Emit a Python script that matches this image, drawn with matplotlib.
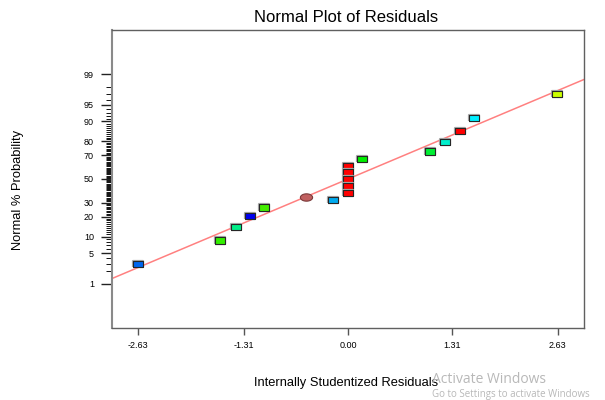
import numpy as np
import matplotlib
matplotlib.use("Agg")
import matplotlib.pyplot as plt
import matplotlib.patheffects as pe
from statistics import NormalDist

plt.rcParams['font.family'] = ['Liberation Sans', 'DejaVu Sans']

# studentized residuals and their normal % probability
resid = [-2.63, -1.60, -1.41, -1.23, -1.05, -0.53, -0.19,
         0.0, 0.0, 0.0, 0.0, 0.0,
         0.18, 1.03, 1.22, 1.40, 1.58, 2.62]
prob = [2.9, 8.6, 14.5, 20.5, 26.4, 34.7, 31.9,
        61.6, 55.8, 49.6, 44.1, 38.1,
        67.3, 73.0, 79.2, 85.5, 91.1, 97.0]
colors = ['#0066ee', '#33ee00', '#00ee88', '#0000ee', '#44ee00', '#c06060', '#00aaee',
          '#ff0000', '#ff0000', '#ff0000', '#ff0000', '#ff0000',
          '#00ee00', '#00ee33', '#00eecc', '#ff0000', '#00eeff', '#ccff00']
shapes = ['box'] * 5 + ['oval'] + ['box'] * 12

# fitted reference line  z = slope * r + icpt
slope = 0.747
icpt = 0.0

xticks = [-2.63, -1.31, 0.00, 1.31, 2.63]
yticks = [1, 5, 10, 20, 30, 50, 70, 80, 90, 95, 99]

nd = NormalDist()
def z(p):
    return nd.inv_cdf(p / 100.0)

box = [(-1, -0.62), (1, -0.62), (1, 0.62), (-1, 0.62), (-1, -0.62)]
t = np.linspace(0, 2 * np.pi, 60)
oval = list(zip(np.cos(t), 0.6 * np.sin(t)))

fig = plt.figure(figsize=(6.05, 4.0), dpi=100)
ax = fig.add_axes([0.1851, 0.18, 0.7802, 0.745])

xl = (-2.96, 2.96)
ax.set_xlim(xl)
ax.set_ylim(-3.31, 3.31)

xx = np.array(xl)
ax.plot(xx, slope * xx + icpt, color='#ff8080', lw=1.1, zorder=2)

halo = [pe.Stroke(linewidth=1.6, foreground='#a8a8a8'), pe.Normal()]
for r, p, c, s in zip(resid, prob, colors, shapes):
    if s == 'box':
        ax.plot(r, z(p), marker=box, ms=7.2, mfc=c, mec='#262626', mew=0.8,
                ls='none', zorder=3, path_effects=halo)
    else:
        ax.plot(r, z(p), marker=oval, ms=8.8, mfc=c, mec='#7a3a3a', mew=0.8,
                ls='none', zorder=3)

ax.set_xticks(xticks)
ax.set_xticklabels(['%.2f' % v for v in xticks], fontsize=6.5)
ax.set_yticks([z(v) for v in yticks])
ax.set_yticklabels([str(v) for v in yticks], fontsize=6.5)
minor = [v for v in range(2, 99) if v not in yticks]
ax.set_yticks([z(v) for v in minor], minor=True)

ax.tick_params(axis='y', which='major', length=8, width=1, color='#222222', pad=5)
ax.tick_params(axis='y', which='minor', length=4, width=0.7, color='#111111')
ax.tick_params(axis='x', which='major', length=5, width=1, color='#555555', pad=4)
for sp in ax.spines.values():
    sp.set_color('#606060')
    sp.set_linewidth(1.0)
ax.spines['left'].set_linewidth(1.5)
ax.spines['left'].set_color('#8a8a8a')

fig.text(0.572, 0.955, 'Normal Plot of Residuals', fontsize=12, ha='center', va='center')
fig.text(0.572, 0.043, 'Internally Studentized Residuals', fontsize=9.3, ha='center', va='center')
fig.text(0.030, 0.525, 'Normal % Probability', fontsize=9.3, rotation=90, ha='center', va='center')

# desktop watermark
fig.text(0.714, 0.052, 'Activate Windows', fontsize=10, color='#b8b8b8', ha='left', va='center',
         family=['Open Sans', 'DejaVu Sans'])
fig.text(0.714, 0.013, 'Go to Settings to activate Windows', fontsize=7, color='#b8b8b8',
         ha='left', va='center', family=['Open Sans', 'DejaVu Sans'])

fig.savefig('out.png', dpi=100)
